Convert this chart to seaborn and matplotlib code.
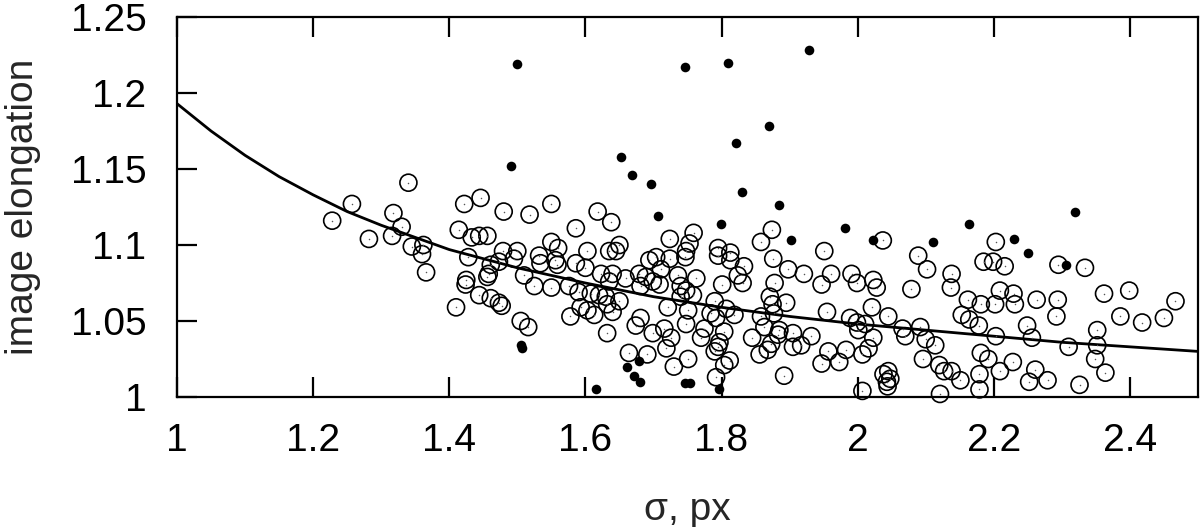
import matplotlib
matplotlib.use("Agg")
import matplotlib.pyplot as plt
import seaborn as sns
from matplotlib.ticker import FuncFormatter

# open circles
circ_x = [1.340, 1.257, 1.228, 1.318, 1.330, 1.282, 1.316, 1.345, 1.362, 1.360, 1.366, 1.422, 1.414, 1.410, 1.428, 1.425, 1.424, 1.433,
          1.446, 1.480, 1.518, 1.550, 1.618, 1.638, 1.586, 1.444, 1.456, 1.479, 1.500, 1.495, 1.473, 1.461, 1.458, 1.456, 1.444, 1.461,
          1.473, 1.477, 1.505, 1.516, 1.510, 1.525, 1.532, 1.534, 1.550, 1.560, 1.556, 1.559, 1.550, 1.576, 1.586, 1.603, 1.600, 1.590,
          1.623, 1.635, 1.645, 1.650, 1.640, 1.635, 1.659, 1.608, 1.620, 1.630, 1.650, 1.593, 1.603, 1.613, 1.578, 1.632, 1.640, 1.632,
          1.664, 1.691, 1.674, 1.681, 1.699, 1.679, 1.689, 1.694, 1.681, 1.699,
          1.724, 1.759, 1.753, 1.748, 1.747, 1.724, 1.704, 1.711, 1.736, 1.763, 1.709, 1.740, 1.748, 1.758, 1.740, 1.721, 1.751, 1.748,
          1.716, 1.726, 1.719, 1.751, 1.730, 1.795, 1.795, 1.813, 1.813, 1.833, 1.824, 1.831, 1.801, 1.790, 1.807, 1.819, 1.784, 1.792,
          1.775, 1.804, 1.770, 1.797, 1.795, 1.790, 1.812, 1.804, 1.792, 1.874, 1.858, 1.876, 1.898, 1.921, 1.878, 1.871, 1.895, 1.875,
          1.877, 1.858, 1.863, 1.885, 1.883, 1.873, 1.845, 1.868, 1.856, 1.905, 1.905, 1.917, 1.932, 1.892, 1.951, 1.947, 1.961, 1.955,
          1.957, 1.947,
          2.037, 2.089, 2.102, 2.138, 2.137, 2.079, 1.991, 1.999, 2.023, 2.028, 2.203, 2.185, 2.199, 2.216, 2.209, 2.229, 2.162, 2.181,
          2.202, 2.231, 2.153, 2.164, 2.178, 2.021, 2.045, 1.989, 1.999, 2.011, 2.001, 2.066, 2.070, 2.092, 2.100, 2.114, 2.023, 2.016,
          2.007, 1.983, 1.973, 2.096, 2.120, 2.127, 2.138, 2.151, 2.045, 2.048, 2.043, 2.038, 2.044, 2.007, 2.121, 2.181, 2.192, 2.179,
          2.179, 2.209, 2.228, 2.203,
          2.295, 2.334, 2.362, 2.399, 2.467, 2.386, 2.418, 2.450, 2.263, 2.294, 2.292, 2.249, 2.256, 2.352, 2.352, 2.310, 2.349, 2.364,
          2.261, 2.252, 2.279, 2.326]
circ_y = [1.141, 1.127, 1.116, 1.121, 1.112, 1.104, 1.106, 1.099, 1.100, 1.094, 1.082, 1.127, 1.110, 1.059, 1.092, 1.077, 1.074, 1.105,
          1.131, 1.122, 1.120, 1.127, 1.122, 1.115, 1.111, 1.106, 1.106, 1.096, 1.096, 1.091, 1.089, 1.087, 1.081, 1.079, 1.067, 1.065,
          1.062, 1.060, 1.050, 1.046, 1.080, 1.073, 1.093, 1.088, 1.102, 1.098, 1.090, 1.087, 1.072, 1.073, 1.088, 1.096, 1.085, 1.069,
          1.081, 1.096, 1.096, 1.100, 1.081, 1.076, 1.078, 1.068, 1.067, 1.066, 1.063, 1.059, 1.057, 1.054, 1.053, 1.061, 1.056, 1.042,
          1.029, 1.028, 1.047, 1.052, 1.042, 1.081, 1.079, 1.090, 1.073, 1.076,
          1.104, 1.108, 1.101, 1.096, 1.092, 1.091, 1.092, 1.084, 1.080, 1.078, 1.074, 1.073, 1.070, 1.067, 1.066, 1.059, 1.057, 1.048,
          1.045, 1.039, 1.032, 1.025, 1.020, 1.098, 1.093, 1.095, 1.090, 1.086, 1.080, 1.075, 1.074, 1.063, 1.058, 1.054, 1.055, 1.052,
          1.045, 1.043, 1.039, 1.036, 1.033, 1.030, 1.024, 1.021, 1.013, 1.110, 1.102, 1.091, 1.084, 1.081, 1.075, 1.066, 1.062, 1.061,
          1.055, 1.053, 1.046, 1.044, 1.041, 1.035, 1.039, 1.031, 1.028, 1.042, 1.033, 1.034, 1.040, 1.014, 1.096, 1.074, 1.081, 1.056,
          1.030, 1.022,
          1.103, 1.093, 1.084, 1.081, 1.072, 1.071, 1.081, 1.075, 1.077, 1.072, 1.102, 1.089, 1.089, 1.086, 1.070, 1.068, 1.064, 1.061,
          1.061, 1.061, 1.054, 1.051, 1.047, 1.059, 1.053, 1.052, 1.049, 1.048, 1.044, 1.045, 1.040, 1.046, 1.038, 1.034, 1.039, 1.032,
          1.028, 1.031, 1.023, 1.025, 1.021, 1.017, 1.017, 1.011, 1.017, 1.012, 1.010, 1.015, 1.007, 1.004, 1.002, 1.029, 1.025, 1.015,
          1.005, 1.017, 1.023, 1.040,
          1.087, 1.085, 1.068, 1.070, 1.063, 1.053, 1.049, 1.052, 1.064, 1.064, 1.053, 1.047, 1.039, 1.044, 1.034, 1.033, 1.025, 1.016,
          1.018, 1.010, 1.011, 1.008]

# filled dots
dot_x = [1.500, 1.746, 1.809, 1.928, 1.870, 1.822, 1.491, 1.652, 1.668, 1.696, 1.830, 1.884, 1.707, 1.799, 1.902, 1.982, 2.022,
         2.110, 2.163, 2.229, 2.251, 2.320, 2.306, 1.505, 1.507, 1.615, 1.661, 1.679, 1.672, 1.680, 1.747, 1.754, 1.797]
dot_y = [1.219, 1.217, 1.220, 1.228, 1.178, 1.167, 1.152, 1.158, 1.146, 1.140, 1.135, 1.126, 1.119, 1.114, 1.103, 1.111, 1.103,
         1.102, 1.114, 1.104, 1.095, 1.122, 1.087, 1.034, 1.032, 1.005, 1.020, 1.024, 1.014, 1.010, 1.009, 1.009, 1.005]

# fitted curve, read at these sigma values
fit_x = [1.0, 1.05, 1.1, 1.15, 1.2, 1.25, 1.3, 1.35, 1.4, 1.5, 1.6, 1.7, 1.8, 1.9, 2.0, 2.1, 2.2, 2.3, 2.4, 2.5]
fit_y = [1.193, 1.175, 1.159, 1.145, 1.133, 1.122, 1.113, 1.105, 1.097, 1.085, 1.075, 1.066, 1.059, 1.053, 1.048, 1.044,
         1.040, 1.036, 1.033, 1.030]

x_ticks = [1, 1.2, 1.4, 1.6, 1.8, 2, 2.2, 2.4]
y_ticks = [1, 1.05, 1.1, 1.15, 1.2, 1.25]

sns.set_style("ticks")
plt.rcParams["font.family"] = ["Liberation Sans", "DejaVu Sans"]

fig = plt.figure(figsize=(12, 5.27), dpi=100)
ax = fig.add_axes([0.1475, 0.2467, 0.8508, 0.721])

sns.lineplot(x=fit_x, y=fit_y, ax=ax, color="black", linewidth=2.0, zorder=2)
sns.scatterplot(x=circ_x, y=circ_y, ax=ax, marker="o", s=150, facecolors="none",
                edgecolor="black", linewidth=1.2, clip_on=False, zorder=3)
sns.scatterplot(x=circ_x, y=circ_y, ax=ax, marker="o", s=1.2, color="#555555",
                linewidth=0, clip_on=False, zorder=3)
sns.scatterplot(x=dot_x, y=dot_y, ax=ax, marker="o", s=48, color="black",
                linewidth=0, clip_on=False, zorder=4)

ax.set_xlim(1, 2.5)
ax.set_ylim(1, 1.25)
ax.set_xticks(x_ticks)
ax.set_yticks(y_ticks)
fmt = FuncFormatter(lambda v, p: "%g" % v)
ax.xaxis.set_major_formatter(fmt)
ax.yaxis.set_major_formatter(fmt)

for s in ax.spines.values():
    s.set_linewidth(1.6)
    s.set_color("black")
ax.tick_params(axis="x", direction="in", length=14.5, width=1.6, top=True, bottom=True,
               labelsize=28, pad=19, colors="black")
ax.tick_params(axis="y", direction="in", length=14.5, width=1.6, left=True, right=False,
               labelsize=28, pad=22, colors="black")

ax.set_xlabel("σ, px", fontsize=28)
ax.set_ylabel("image elongation", fontsize=28)
ax.xaxis.set_label_coords(0.5, -0.25)
ax.yaxis.set_label_coords(-0.133, 0.5)

fig.savefig("out.png", dpi=100)
